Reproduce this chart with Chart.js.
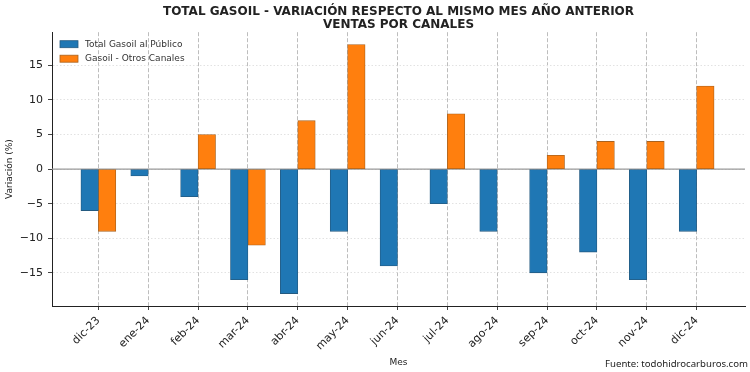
<!DOCTYPE html>
<html>
<head>
<meta charset="utf-8">
<script src="https://cdn.jsdelivr.net/npm/chart.js@4"></script>
<style>
  html, body { margin: 0; padding: 0; background: #fff; }
  #wrap { width: 750px; height: 372px; }
</style>
</head>
<body>
<div id="wrap"><canvas id="grafico" width="750" height="372"></canvas></div>
<script>
const meses = ["dic-23", "ene-24", "feb-24", "mar-24", "abr-24", "may-24", "jun-24",
               "jul-24", "ago-24", "sep-24", "oct-24", "nov-24", "dic-24"];
const totalPublico = [-6, -1, -4, -16, -18, -9, -14, -5, -9, -15, -12, -16, -9];
const otrosCanales = [-9, null, 5, -11, 7, 18, null, 8, null, 2, 4, 4, 12];
const ticksY = [-15, -10, -5, 0, 5, 10, 15];

const titulo = ["TOTAL GASOIL - VARIACIÓN RESPECTO AL MISMO MES AÑO ANTERIOR", "VENTAS POR CANALES"];
const fuente = "Fuente: todohidrocarburos.com";

// barras agrupadas a cada lado de la marca
const ancho = 0.35;
function puntos(valores, desplaz) {
    return valores.map((v, i) => ({ x: i + desplaz, y: v }));
}

const extras = {
    id: "extras",
    beforeDatasetsDraw(chart) {
        const { ctx, chartArea, scales } = chart;
        const y0 = scales.y.getPixelForValue(0);
        ctx.save();
        ctx.strokeStyle = "#9a9a9a";
        ctx.lineWidth = 1.2;
        ctx.beginPath();
        ctx.moveTo(chartArea.left, y0);
        ctx.lineTo(chartArea.right, y0);
        ctx.stroke();
        ctx.restore();
    },
    afterDraw(chart) {
        const { ctx, chartArea } = chart;
        ctx.save();
        // leyenda
        ctx.font = "9px 'DejaVu Sans'";
        ctx.textBaseline = "middle";
        chart.data.datasets.forEach((ds, i) => {
            const x = chartArea.left + 8;
            const y = chartArea.top + 12 + i * 14.5;
            ctx.fillStyle = ds.backgroundColor;
            ctx.fillRect(x, y - 3.5, 18, 7);
            ctx.strokeStyle = ds.borderColor;
            ctx.lineWidth = 0.8;
            ctx.strokeRect(x, y - 3.5, 18, 7);
            ctx.fillStyle = "#333";
            ctx.fillText(ds.label, x + 25, y);
        });
        // fuente
        ctx.font = "9.6px 'Noto Sans'";
        ctx.fillStyle = "#222";
        ctx.textAlign = "right";
        ctx.fillText(fuente, 748, 364);
        ctx.restore();
    }
};

new Chart(document.getElementById("grafico"), {
    type: "bar",
    data: {
        datasets: [
            {
                label: "Total Gasoil al Público",
                data: puntos(totalPublico, -ancho / 2),
                backgroundColor: "#1f77b4",
                borderColor: "#245a80",
                borderWidth: 0.8,
                borderSkipped: false,
                grouped: false,
                barPercentage: 1,
                categoryPercentage: 1
            },
            {
                label: "Gasoil - Otros Canales",
                data: puntos(otrosCanales, ancho / 2),
                backgroundColor: "#ff7f0e",
                borderColor: "#a8621f",
                borderWidth: 0.8,
                borderSkipped: false,
                grouped: false,
                barPercentage: 1,
                categoryPercentage: 1
            }
        ]
    },
    options: {
        responsive: false,
        animation: false,
        layout: { padding: { top: 0, right: 5, bottom: 4, left: 0 } },
        plugins: {
            legend: { display: false },
            tooltip: { enabled: false },
            title: {
                display: true,
                text: titulo,
                fullSize: false,
                color: "#222",
                font: { family: "'DejaVu Sans'", size: 12, weight: "bold", lineHeight: 1.05 },
                padding: { top: 6, bottom: 1 }
            }
        },
        scales: {
            x: {
                type: "linear",
                min: -0.93,
                max: 12.97,
                offset: false,
                afterBuildTicks(scale) {
                    scale.ticks = meses.map((m, i) => ({ value: i }));
                },
                afterFit(scale) { scale.height = 62; },
                ticks: {
                    minRotation: 45,
                    maxRotation: 45,
                    padding: 4,
                    color: "#222",
                    font: { family: "'DejaVu Sans'", size: 11 },
                    callback: (v) => meses[v]
                },
                grid: {
                    offset: false,
                    color: "#bdbdbd",
                    lineWidth: 1,
                    tickLength: 4,
                    tickColor: "#444",
                    tickBorderDash: []
                },
                border: { color: "#222", width: 1, dash: [4, 2] },
                title: {
                    display: true,
                    text: "Mes",
                    color: "#222",
                    font: { family: "'DejaVu Sans'", size: 9 },
                    padding: { top: 0, bottom: 0 }
                }
            },
            y: {
                min: -19.8,
                max: 19.8,
                afterBuildTicks(scale) {
                    scale.ticks = ticksY.map(v => ({ value: v }));
                },
                afterFit(scale) { scale.width = 52; },
                ticks: {
                    padding: 5,
                    color: "#222",
                    font: { family: "'DejaVu Sans'", size: 11 },
                    callback: (v) => String(v).replace("-", "\u2212")
                },
                grid: {
                    color: "#e2e2e2",
                    lineWidth: 1,
                    tickLength: 4,
                    tickColor: "#444",
                    tickBorderDash: []
                },
                border: { color: "#222", width: 1, dash: [1.5, 2] },
                title: {
                    display: true,
                    text: "Variación (%)",
                    color: "#222",
                    font: { family: "'DejaVu Sans'", size: 9 },
                    padding: { top: 4, bottom: 0 }
                }
            }
        }
    },
    plugins: [extras]
});
</script>
</body>
</html>
